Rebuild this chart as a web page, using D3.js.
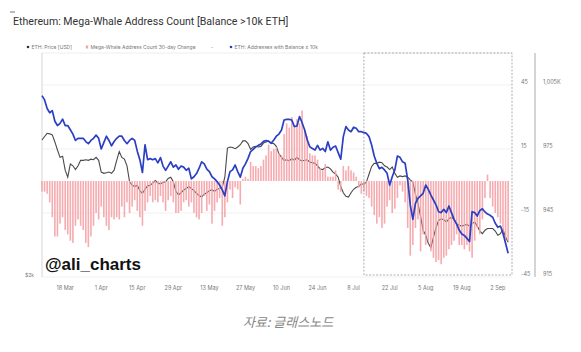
<!DOCTYPE html>
<html>
<head>
<meta charset="utf-8">
<script src="https://cdn.jsdelivr.net/npm/d3@7"></script>
<style>
  body { margin: 0; background: #fff; }
  svg { display: block; }
</style>
</head>
<body>
<div id="main"></div>
<script>
const ctx = {
    w: 581,
    h: 352,
};

// daily series, first day 9 Mar 2024, last day 6 Sep 2024
const startDay = "2024-03-09";
const endDay = "2024-09-07";

// mega-whale address count, 30-day change
const change30d = [
    -5, -5, -6, -10, -17, -26, -26, -20, -17, -23,
    -25, -28, -29, -21, -18, -21, -23, -29, -31, -26,
    -21, -15, -18, -12, -17, -21, -23, -17, -18, -17,
    -18, -12, -17, -10, -15, -12, -9, -14, -17, -21,
    -14, -10, -7, -10, -9, -10, -7, -10, -14, -9,
    -7, -10, -15, -15, -14, -10, -9, -12, -10, -15,
    -17, -18, -15, -7, -14, -11, -20, -14, -10, -8,
    -21, -17, -10, -4, -8, -3, -4, -11, 1, 2,
    1, 9, 7, 7, 6, 7, 10, 12, 17, 14,
    15, 16, 13, 12, 22, 27, 25, 30, 25, 29,
    27, 33, 24, 21, 13, 12, 12, 10, 6, 5,
    8, 2, 2, 2, 5, -4, -5, 7, 5, 7,
    5, 4, 2, -3, -6, -5, -7, -8, -12, -16,
    -20, -17, -22, -20, -12, -9, -15, -13, -8, -2,
    -5, -10, -22, -35, -30, -22, -18, -33, -25, -30,
    -28, -33, -36, -38, -37, -39, -36, -35, -32, -30,
    -28, -25, -30, -30, -32, -30, -33, -36, -28, -22,
    -25, -18, -8, 3, -8, -12, -15, -17, -20, -25,
    -28, -28
];

// ETH: addresses with balance >= 10k
const addresses = [
    1000, 998, 994, 992, 993, 988, 986, 987, 989, 986,
    986, 984, 982, 979, 980, 980, 980, 978.5, 977.5, 979,
    980, 981.5, 980, 975, 978, 981, 979, 976.5, 978.5, 980,
    981, 981, 979, 977.5, 979, 980, 979, 974, 970, 964,
    977, 970, 970.5, 970, 970.5, 968.5, 971, 967, 965, 967,
    969, 966.5, 967.5, 965.5, 967, 966.5, 965, 966, 961, 962,
    963.5, 966, 969, 968, 965.6, 964.4, 962, 961, 959.7, 958,
    955.8, 953, 959.7, 964.4, 965.2, 967.5, 964.4, 961.8, 966, 968,
    970.6, 973.8, 974.8, 976, 976.7, 977.3, 978.6, 979, 978.6, 977.7,
    979.2, 981, 982, 983.9, 988.6, 988.9, 988.9, 988.6, 985.5, 985.8,
    990.2, 987.3, 983.9, 979.2, 976, 975.2, 974.5, 976.7, 974.5, 975.3,
    973.8, 978.4, 974.5, 975.8, 976.4, 973.3, 970.2, 980.8, 985.5, 983.9,
    983.1, 985.2, 984.7, 983.1, 983.1, 982.7, 982.3, 980.8, 976.9, 971.7,
    968.3, 965.8, 966.4, 965.2, 963.6, 958.1, 962, 965.2, 971.7, 971.1,
    969, 968.3, 960.5, 948.8, 942, 949.5, 951.9, 953, 954.2, 958.1,
    956.1, 953.4, 951.1, 948.8, 945.6, 945.2, 946.7, 945.2, 948.3, 945.2,
    942, 939.8, 937, 935.2, 934.5, 933.1, 931.6, 945.6, 945.2, 943.6,
    946.1, 947, 945.5, 944.5, 943.9, 943, 940.2, 938.3, 938.9, 935.5,
    930.8, 926.1
];

// ETH: price (USD)
const price = [
    3846, 3910, 3970, 3960, 3940, 3810, 3667, 3540, 3560, 3330,
    3220, 3430, 3400, 3340, 3400, 3490, 3490, 3500, 3490, 3510,
    3500, 3540, 3490, 3300, 3280, 3290, 3300, 3280, 3330, 3490,
    3640, 3540, 3510, 3400, 3150, 3100, 3080, 3100, 3020, 2980,
    3040, 3090, 3100, 3130, 3170, 3130, 3120, 3140, 3150, 3200,
    3220, 3150, 3010, 2960, 2990, 3030, 3050, 3080, 3050, 3020,
    2980, 2950, 2930, 2970, 2990, 3020, 3030, 3010, 3040, 3050,
    3070, 3220, 3700, 3720, 3710, 3690, 3720, 3760, 3830, 3830,
    3780, 3680, 3720, 3730, 3720, 3730, 3790, 3810, 3830, 3790,
    3780, 3730, 3600, 3540, 3490, 3500, 3480, 3520, 3490, 3540,
    3500, 3480, 3490, 3500, 3460, 3450, 3440, 3400, 3350, 3340,
    3370, 3380, 3350, 3300, 3270, 3220, 3080, 2990, 2940, 2930,
    2990, 3040, 3070, 3080, 3120, 3110, 3150, 3270, 3390, 3440,
    3440, 3460, 3450, 3400, 3380, 3340, 3380, 3280, 3220, 3240,
    3230, 3240, 3220, 3180, 3150, 2970, 2840, 2670, 2500, 2440,
    2350, 2300, 2420, 2530, 2620, 2640, 2630, 2600, 2640, 2660,
    2630, 2580, 2560, 2550, 2560, 2570, 2550, 2580, 2600, 2550,
    2490, 2460, 2500, 2520, 2520, 2520, 2490, 2440, 2460, 2510,
    2420, 2360
];

const xTicks = ["2024-03-18", "2024-04-01", "2024-04-15", "2024-04-29", "2024-05-13",
    "2024-05-27", "2024-06-10", "2024-06-24", "2024-07-08", "2024-07-22",
    "2024-08-05", "2024-08-19", "2024-09-02"];
const changeTicks = [45, 15, -15, -45];
const addressTicks = [1005, 975, 945, 915];
const addressTickLabels = ["1,005K", "975", "945", "915"];
const priceTicks = [2000];
const priceTickLabels = ["$2k"];
const zoomBox = ["2024-07-12", "2024-09-07"];

const legendItems = [
    {label: "ETH: Price [USD]", type: "dot", color: "#333"},
    {label: "Mega-Whale Address Count 30-day Change", type: "bar", color: "#f4a4a8"},
    {label: "-", type: "none", color: "#999"},
    {label: "ETH: Addresses with Balance \u2265 10k", type: "dot", color: "#2b3fc4"}
];
const legendX = [28, 87, 211, 231];

function createViz() {
    const parseDay = d3.timeParse("%Y-%m-%d");
    const days = d3.timeDay.range(parseDay(startDay), parseDay(endDay));
    const rows = days.map((d, i) => ({
        date: d,
        change: change30d[i],
        addr: addresses[i],
        price: price[i]
    }));

    const plot = {left: 42, right: 512, top: 53, bottom: 277};

    const x = d3.scaleTime()
        .domain([parseDay(startDay), d3.timeHour.offset(parseDay(endDay), 12)])
        .range([plot.left, plot.right]);
    const yChange = d3.scaleLinear().domain([-45, 45]).range([277, 85]);
    const yAddr = d3.scaleLinear().domain([915, 1005]).range([277, 85]);
    const yPrice = d3.scaleLog().domain([2000, 5000]).range([277, 85]);

    const svg = d3.select("#main").append("svg")
        .attr("width", ctx.w)
        .attr("height", ctx.h)
        .style("font-family", "Inter, 'Noto Sans', sans-serif");

    // title
    svg.append("line")
        .attr("x1", 10).attr("x2", 15).attr("y1", 12).attr("y2", 12)
        .attr("stroke", "#555").attr("stroke-width", 0.8);
    svg.append("text")
        .attr("x", 13)
        .attr("y", 24.5)
        .style("font-family", "Roboto, sans-serif")
        .style("font-size", "10.6px")
        .style("fill", "#333")
        .text("Ethereum: Mega-Whale Address Count [Balance >10k ETH]");

    // legend
    const legend = svg.append("g").selectAll("g")
        .data(legendItems)
        .join("g")
        .attr("transform", (d, i) => `translate(${legendX[i]},47)`);
    legend.filter(d => d.type === "dot").append("circle")
        .attr("r", 1.3)
        .attr("fill", d => d.color);
    legend.filter(d => d.type === "bar").append("rect")
        .attr("x", -1.2).attr("y", -1.5).attr("width", 2.4).attr("height", 3)
        .attr("fill", d => d.color);
    legend.append("text")
        .attr("x", d => d.type === "none" ? 0 : 3.5)
        .attr("y", 1.8)
        .style("font-size", "5px")
        .style("fill", "#777")
        .text(d => d.label);

    // grid
    const grid = svg.append("g");
    grid.append("line")
        .attr("x1", plot.left).attr("x2", plot.right)
        .attr("y1", plot.top).attr("y2", plot.top)
        .attr("stroke", "#eee");
    grid.selectAll(".grid")
        .data(changeTicks)
        .join("line")
        .attr("class", "grid")
        .attr("x1", plot.left).attr("x2", plot.right)
        .attr("y1", d => yChange(d)).attr("y2", d => yChange(d))
        .attr("stroke", "#f1f1f1");
    svg.append("line")
        .attr("x1", plot.left).attr("x2", plot.left)
        .attr("y1", plot.top).attr("y2", plot.bottom)
        .attr("stroke", "#d6d6d6");

    // price
    svg.append("path")
        .datum(rows)
        .attr("fill", "none")
        .attr("stroke", "#4a4a4a")
        .attr("stroke-width", 1.1)
        .attr("d", d3.line().x(d => x(d.date)).y(d => yPrice(d.price)));

    // 30-day change bars
    svg.append("g").selectAll("rect")
        .data(rows)
        .join("rect")
        .attr("x", d => x(d.date) - 0.8)
        .attr("width", 1.6)
        .attr("y", d => Math.min(yChange(d.change), yChange(0)))
        .attr("height", d => Math.abs(yChange(d.change) - yChange(0)))
        .attr("fill", "#f4a4a8")
        .attr("fill-opacity", 0.92);

    // addresses
    svg.append("path")
        .datum(rows)
        .attr("fill", "none")
        .attr("stroke", "#2b3fc4")
        .attr("stroke-width", 1.7)
        .attr("stroke-linejoin", "round")
        .attr("d", d3.line().x(d => x(d.date)).y(d => yAddr(d.addr)));

    // highlighted period
    const x0 = x(parseDay(zoomBox[0])), x1 = plot.right;
    svg.append("rect")
        .attr("x", x0).attr("y", plot.top)
        .attr("width", x1 - x0).attr("height", 275 - plot.top)
        .attr("fill", "none")
        .attr("stroke", "#999")
        .attr("stroke-width", 0.8)
        .attr("stroke-dasharray", "2,1.5");

    // right axes
    svg.append("line")
        .attr("x1", 535).attr("x2", 535)
        .attr("y1", plot.top).attr("y2", plot.bottom)
        .attr("stroke", "#aaa");
    svg.append("g").selectAll("text")
        .data(changeTicks)
        .join("text")
        .attr("x", 521)
        .attr("y", d => yChange(d) - 1)
        .style("font-size", "5.5px")
        .style("fill", "#777")
        .text(d => d);
    svg.append("g").selectAll("text")
        .data(addressTicks)
        .join("text")
        .attr("x", 543)
        .attr("y", d => yAddr(d) - 1)
        .style("font-size", "5.5px")
        .style("fill", "#777")
        .text((d, i) => addressTickLabels[i]);

    // left axis
    svg.append("g").selectAll("text")
        .data(priceTicks)
        .join("text")
        .attr("x", 25)
        .attr("y", d => yPrice(d) - 0.5)
        .style("font-size", "5px")
        .style("fill", "#777")
        .text((d, i) => priceTickLabels[i]);

    // x axis
    svg.append("g").selectAll("text")
        .data(xTicks)
        .join("text")
        .attr("x", d => x(parseDay(d)))
        .attr("y", 290)
        .attr("text-anchor", "middle")
        .style("font-size", "5.5px")
        .style("fill", "#777")
        .text(d => d3.timeFormat("%-d %b")(parseDay(d)));

    svg.append("text")
        .attr("x", 45)
        .attr("y", 270)
        .style("font-family", "'Liberation Sans', Arial, sans-serif")
        .style("font-weight", "bold")
        .style("font-size", "17px")
        .style("fill", "#111")
        .text("@ali_charts");

    svg.append("text")
        .attr("x", 288)
        .attr("y", 327)
        .attr("text-anchor", "middle")
        .style("font-family", "'Noto Sans CJK KR', sans-serif")
        .style("font-style", "italic")
        .style("font-size", "13px")
        .style("fill", "#888")
        .text("자료: 글래스노드");
}

createViz();
</script>
</body>
</html>
